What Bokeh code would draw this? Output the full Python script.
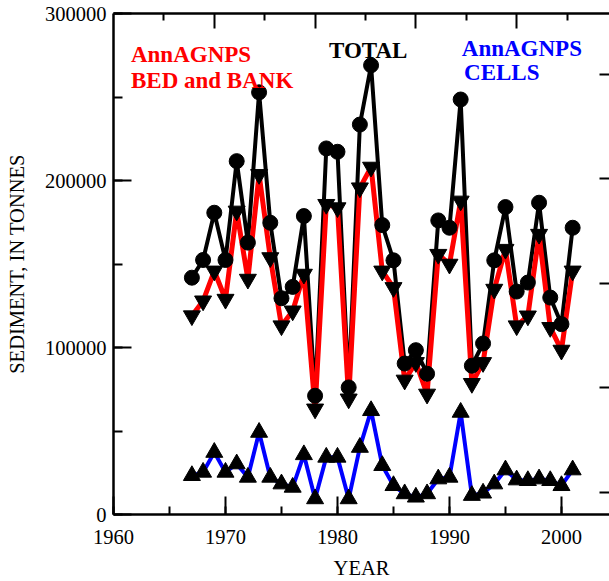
from bokeh.plotting import figure
from bokeh.models import (Range1d, LinearAxis, FixedTicker, SingleIntervalTicker,
                          BasicTickFormatter, Label)
from bokeh.embed import file_html
from bokeh.resources import INLINE

years = list(range(1967, 2002))
total = [141800, 152400, 180700, 152400, 211600, 162800, 252800, 174700, 129500, 136300,
         178700, 71100, 219200, 217200, 76100, 233500, 269000, 173300, 152200, 90400,
         98400, 84300, 176100, 171700, 248500, 89100, 102400, 152200, 184100, 133500,
         138900, 186700, 129900, 114000, 171700]
bed_bank = [119000, 127900, 145800, 128900, 181700, 140900, 203600, 153800, 113000, 121900,
            143900, 63200, 185700, 183700, 69200, 195600, 208000, 145800, 135900, 80500,
            91000, 72100, 155800, 149900, 187700, 78500, 91000, 134900, 158800, 113000,
            118900, 167800, 112000, 98400, 145800]
cells = [23300, 25300, 37200, 25300, 30300, 22300, 49200, 22300, 18300, 16300,
         35800, 9400, 34300, 34300, 9400, 40200, 62200, 29300, 17300, 12400,
         10400, 12400, 21300, 22300, 61200, 11400, 12800, 18300, 26700, 20700,
         20300, 21300, 20300, 17300, 26700]

top_major = [1969, 1978, 1987, 1996]
top_minor = [1964.5, 1973.5, 1982.5, 1991.5, 2000.5]
right_ticks = [13150, 75800, 138450, 201100, 263750]

FONT = "Liberation Serif"

p = figure(width=609, height=581, output_backend="svg", toolbar_location=None,
           x_range=Range1d(1960, 2004.29), y_range=Range1d(0, 300000),
           x_axis_location=None, y_axis_location=None,
           min_border_left=113, min_border_right=0, min_border_top=13, min_border_bottom=67)
p.outline_line_color = None
p.xgrid.visible = False
p.ygrid.visible = False
p.background_fill_color = "white"
p.border_fill_color = "white"

def style(ax, maj_in, min_in, line=True):
    ax.axis_line_width = 2.5
    ax.axis_line_color = "black" if line else None
    ax.major_tick_in = maj_in
    ax.major_tick_out = 0
    ax.minor_tick_in = min_in
    ax.minor_tick_out = 0
    ax.major_tick_line_width = 2
    ax.minor_tick_line_width = 2
    ax.major_tick_line_color = "black"
    ax.minor_tick_line_color = "black"
    ax.major_label_text_font = FONT
    ax.major_label_text_font_size = "20.5px"
    ax.major_label_text_color = "black"
    ax.axis_label_text_font = FONT
    ax.axis_label_text_font_size = "20.5px"
    ax.axis_label_text_font_style = "normal"
    ax.axis_label_text_color = "black"

xb = LinearAxis(ticker=SingleIntervalTicker(interval=10, num_minor_ticks=2), axis_label="YEAR")
style(xb, 18, 8)
xb.major_label_standoff = 15
xb.axis_label_standoff = 10
p.add_layout(xb, "below")

yl = LinearAxis(ticker=SingleIntervalTicker(interval=100000, num_minor_ticks=2),
                formatter=BasicTickFormatter(use_scientific=False),
                axis_label="SEDIMENT, IN TONNES")
style(yl, 18, 9)
yl.major_label_standoff = 7
yl.axis_label_standoff = 14
p.add_layout(yl, "left")

xt = LinearAxis(ticker=FixedTicker(ticks=top_major, minor_ticks=top_minor))
style(xt, 15, 7)
xt.major_label_text_font_size = "1px"
xt.major_label_text_color = None
xt.major_label_standoff = 0
p.add_layout(xt, "above")

yr = LinearAxis(ticker=FixedTicker(ticks=right_ticks, minor_ticks=[]))
style(yr, 10, 0, line=False)
yr.major_label_text_font_size = "1px"
yr.major_label_text_color = None
yr.major_label_standoff = 0
p.add_layout(yr, "right")

# lines
p.line(years, total, line_color="black", line_width=4)
p.line(years, bed_bank, line_color="#ff0000", line_width=5)
p.line(years, cells, line_color="#0000ff", line_width=4)

# markers
p.scatter(years, total, marker="circle", size=15, fill_color="black", line_color="black")
p.scatter(years, bed_bank, marker="inverted_triangle", size=17, fill_color="black", line_color="black")
p.scatter(years, cells, marker="triangle", size=17, fill_color="black", line_color="black")

def lab(x, y, t, c):
    p.add_layout(Label(x=x, y=y, text=t, text_color=c, text_font=FONT,
                       text_font_style="bold", text_font_size="23px",
                       text_baseline="alphabetic", text_align="left"))

lab(1961.56, 275450, "AnnAGNPS", "#ff0000")
lab(1961.56, 259880, "BED and BANK", "#ff0000")
lab(1979.24, 277840, "TOTAL", "black")
lab(1991.1, 278860, "AnnAGNPS", "#0000ff")
lab(1991.3, 264850, "CELLS", "#0000ff")

open("out.html", "w").write(file_html(p, INLINE))
